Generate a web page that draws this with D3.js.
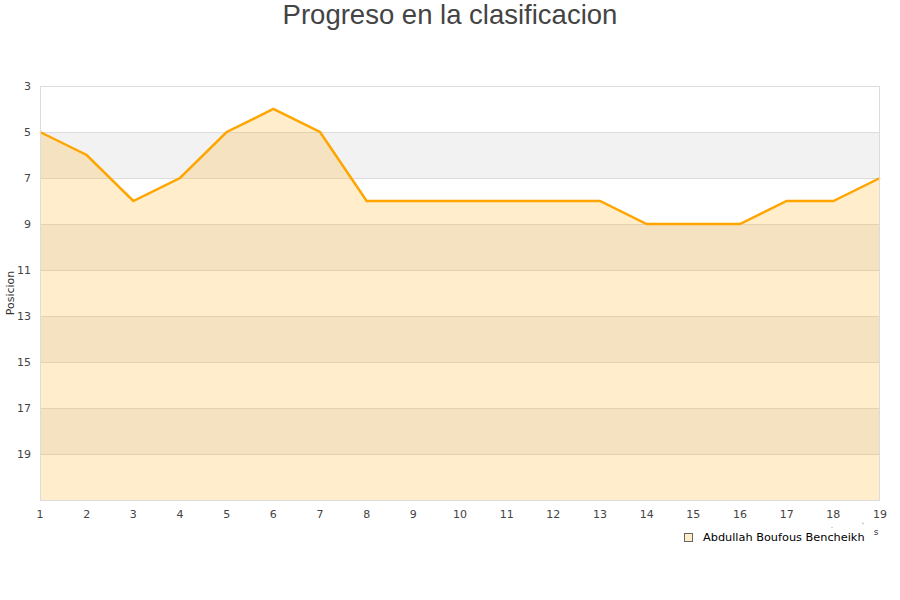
<!DOCTYPE html>
<html><head><meta charset="utf-8">
<script src="https://cdn.jsdelivr.net/npm/d3@7"></script>
<style>body{margin:0;background:#fff}svg{display:block}</style>
</head><body><svg id="c" width="900" height="600"></svg>
<script>
const rounds = [1,2,3,4,5,6,7,8,9,10,11,12,13,14,15,16,17,18,19];
const positions = [5,6,8,7,5,4,5,8,8,8,8,8,8,9,9,9,8,8,7];
const yTicks = [3,5,7,9,11,13,15,17,19];
const seriesName = "Abdullah Boufous Bencheikh";
const title = "Progreso en la clasificacion";

const svg = d3.select("#c");
const L=40,R=880,T=86,B=500;
const x = d3.scaleLinear().domain([1,19]).range([L,R]);
const y = d3.scaleLinear().domain([3,21]).range([T,B]);

// bands
const bands = d3.range(3,21,2);
svg.selectAll("rect.band").data(bands).enter().append("rect")
  .attr("x",L).attr("width",R-L)
  .attr("y",d=>y(d)).attr("height",d=>y(d+2)-y(d))
  .attr("fill",(d,i)=> i%2===1 ? "#f2f2f2" : "#ffffff");
// grid
svg.selectAll("line.grid").data(yTicks.concat([21])).enter().append("line")
  .attr("x1",L).attr("x2",R).attr("y1",d=>y(d)+0.5).attr("y2",d=>y(d)+0.5)
  .attr("stroke","#dcdcdc").attr("stroke-width",1);

const data = rounds.map((r,i)=>({r, p:positions[i]}));
svg.append("path").datum(data)
  .attr("d", d3.area().x(d=>x(d.r)).y0(y(21)).y1(d=>y(d.p)))
  .attr("fill","rgba(255,165,0,0.2)");
svg.append("path").datum(data)
  .attr("d", d3.line().x(d=>x(d.r)).y(d=>y(d.p)))
  .attr("fill","none").attr("stroke","#ffa500").attr("stroke-width",2.5);

// frame
svg.append("rect").attr("x",L+0.5).attr("y",T+0.5).attr("width",R-L-1).attr("height",B-T)
  .attr("fill","none").attr("stroke","#dcdcdc");

const font = "DejaVu Sans, sans-serif";
// y ticks
svg.selectAll("text.yt").data(yTicks).enter().append("text")
  .attr("x",31).attr("y",d=>y(d)+4).attr("text-anchor","end")
  .attr("font-family",font).attr("font-size",11).attr("fill","#444").text(d=>d);
// x ticks
svg.selectAll("text.xt").data(rounds).enter().append("text")
  .attr("x",d=>x(d)).attr("y",518).attr("text-anchor","middle")
  .attr("font-family",font).attr("font-size",11).attr("fill","#444").text(d=>d);
// y label
svg.append("text").attr("transform","translate(14,293) rotate(-90)")
  .attr("text-anchor","middle").attr("font-family",font).attr("font-size",11).attr("fill","#333").text("Posicion");
// title
svg.append("text").attr("x",450).attr("y",24).attr("text-anchor","middle")
  .attr("font-family","Liberation Sans, Arial, sans-serif").attr("font-size",27.5).attr("fill","#444").text(title);
// legend
svg.append("rect").attr("x",684.5).attr("y",533.5).attr("width",8).attr("height",8)
  .attr("fill","#ffedcc").attr("stroke","#666").attr("stroke-width",1);
svg.append("text").attr("x",703).attr("y",541).attr("font-family",font).attr("font-size",11.3).attr("fill","#000").text(seriesName);
// clipped axis title remnant
svg.append("text").attr("x",876).attr("y",535).attr("text-anchor","middle").attr("font-family",font).attr("font-size",9).attr("fill","#333").text("s");
svg.append("text").attr("x",831).attr("y",528).attr("font-family",font).attr("font-size",6).attr("fill","#333").text(".");
svg.append("text").attr("x",862).attr("y",527).attr("font-family",font).attr("font-size",6).attr("fill","#333").text("'");
</script></body></html>
